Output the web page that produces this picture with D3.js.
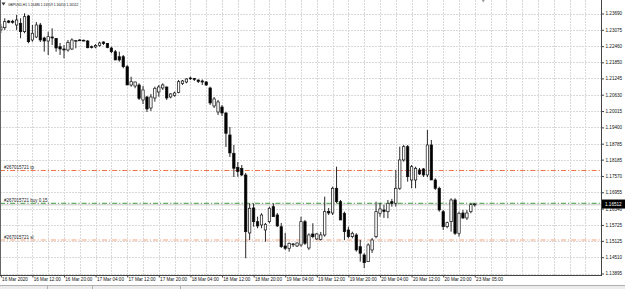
<!DOCTYPE html>
<html>
<head>
<meta charset="utf-8">
<script src="https://cdn.jsdelivr.net/npm/d3@7"></script>
<style>
  html, body { margin: 0; padding: 0; background: #fff; }
  svg { display: block; font-family: "Liberation Sans", Arial, sans-serif; }
</style>
</head>
<body>
<div id="chart"></div>
<script>
// header of the chart window
var symbolTitle = "GBPUSD,H1";
var lastOHLC = ["1.16486", "1.16559", "1.16410", "1.16512"];
var bidPrice = 1.16512;

// hourly candles, 16 Mar 2020 04:00 .. 23 Mar 05:00
var opens = [1.23069,1.23155,1.23408,1.23397,1.23257,1.23321,1.23005,1.23596,1.22692,1.22805,
  1.23257,1.22768,1.22654,1.22805,1.22749,1.22440,1.22353,1.22315,1.22353,1.22654,
  1.22692,1.22681,1.22654,1.22440,1.22429,1.22485,1.22617,1.22560,1.22391,1.22251,
  1.22063,1.22063,1.21686,1.20997,1.20959,1.20997,1.20432,1.20545,1.20131,1.20507,
  1.20733,1.20884,1.20922,1.20545,1.20601,1.20714,1.21053,1.21110,1.21261,1.21242,
  1.21185,1.21148,1.21110,1.20884,1.20206,1.19980,1.20168,1.19942,1.19114,1.18424,
  1.17889,1.17852,1.17607,1.15422,1.16364,1.15848,1.15723,1.15535,1.15848,1.16413,
  1.16100,1.15659,1.14932,1.14845,1.14989,1.14932,1.14970,1.15848,1.14857,1.15384,
  1.15196,1.15177,1.15347,1.16232,1.16175,1.17106,1.16601,1.16164,1.15535,1.15283,
  1.15347,1.14906,1.14593,1.14341,1.14782,1.15283,1.16164,1.16288,1.16224,1.16601,
  1.16541,1.17106,1.18172,1.18673,1.17418,1.17418,1.17795,1.17833,1.17607,1.18737,
  1.17418,1.17106,1.16224,1.15659,1.15848,1.16665,1.15410,1.16175,1.15987,1.16224,
  1.16486];
var highs = [1.23295,1.23510,1.23446,1.23457,1.23634,1.23510,1.23698,1.23634,1.23257,1.23370,
  1.23335,1.22817,1.23005,1.23133,1.22768,1.22579,1.22504,1.22692,1.22756,1.22692,
  1.22730,1.22711,1.22692,1.22485,1.22541,1.22628,1.22636,1.22579,1.22440,1.22315,
  1.22251,1.22127,1.21751,1.21310,1.21121,1.21061,1.20959,1.20583,1.20658,1.20933,
  1.20997,1.21061,1.20933,1.20684,1.20745,1.21185,1.21185,1.21249,1.21310,1.21261,
  1.21204,1.21204,1.21148,1.20933,1.20545,1.20432,1.20244,1.19980,1.19415,1.18737,
  1.18097,1.17983,1.17682,1.16541,1.16541,1.16036,1.16164,1.15799,1.16413,1.16541,
  1.16175,1.15799,1.15422,1.15057,1.15045,1.15064,1.16036,1.15912,1.15410,1.15788,
  1.15422,1.15460,1.16790,1.16364,1.17166,1.17919,1.16665,1.16224,1.15659,1.15471,
  1.15410,1.15158,1.14658,1.15034,1.15234,1.16601,1.16552,1.16477,1.16665,1.16703,
  1.17795,1.18673,1.18737,1.18737,1.17983,1.17919,1.17870,1.17870,1.19302,1.18925,
  1.17482,1.17166,1.16288,1.15848,1.16729,1.16729,1.16224,1.16288,1.16288,1.16541,
  1.16559];
var lows = [1.22956,1.23069,1.23321,1.23306,1.23069,1.22756,1.22945,1.22568,1.22628,1.22768,
  1.22617,1.22251,1.22127,1.22504,1.22251,1.22127,1.22003,1.22251,1.22315,1.22380,
  1.22654,1.22654,1.22380,1.22372,1.22380,1.22440,1.22504,1.22380,1.22191,1.21939,
  1.21875,1.21626,1.20997,1.20933,1.20873,1.20432,1.20281,1.19980,1.20018,1.20368,
  1.20556,1.20809,1.20432,1.20496,1.20556,1.20684,1.20997,1.21061,1.21185,1.21148,
  1.21072,1.20997,1.20959,1.20244,1.20131,1.19867,1.19829,1.18662,1.18285,1.17531,
  1.17543,1.17569,1.14469,1.15158,1.15659,1.15599,1.15599,1.15094,1.15788,1.16036,
  1.15648,1.14857,1.14782,1.14718,1.14894,1.14894,1.14906,1.14970,1.14782,1.15222,
  1.15158,1.15139,1.15283,1.16100,1.16100,1.16541,1.15912,1.15158,1.15222,1.15222,
  1.14718,1.14341,1.14103,1.14330,1.14669,1.15222,1.16036,1.15987,1.15976,1.16413,
  1.16413,1.17042,1.18108,1.17354,1.17106,1.17106,1.17607,1.17531,1.17531,1.17418,
  1.17042,1.16224,1.15535,1.15599,1.15471,1.15347,1.15283,1.15949,1.15912,1.16164,
  1.16410];
var closes = [1.23182,1.23382,1.23359,1.23359,1.23446,1.23005,1.23570,1.22628,1.22945,1.23257,
  1.22692,1.22654,1.22817,1.22768,1.22391,1.22353,1.22315,1.22605,1.22692,1.22673,
  1.22673,1.22662,1.22402,1.22410,1.22485,1.22579,1.22560,1.22410,1.22251,1.21939,
  1.21939,1.21686,1.20997,1.21121,1.21110,1.20496,1.20809,1.20093,1.20545,1.20873,
  1.20922,1.20997,1.20507,1.20658,1.20696,1.21121,1.21148,1.21223,1.21242,1.21204,
  1.21129,1.21110,1.20997,1.20319,1.20470,1.20357,1.19942,1.19178,1.18436,1.17859,
  1.17739,1.17607,1.15471,1.16353,1.15848,1.15686,1.16100,1.15750,1.16353,1.16036,
  1.15686,1.14906,1.14845,1.15034,1.15008,1.15045,1.15848,1.15034,1.15347,1.15283,
  1.15384,1.15347,1.16224,1.16175,1.17106,1.16601,1.15912,1.15471,1.15283,1.15410,
  1.14782,1.14658,1.14303,1.14970,1.15158,1.16224,1.16326,1.16232,1.16541,1.16541,
  1.17106,1.18172,1.18673,1.17543,1.17919,1.17859,1.17645,1.17607,1.18737,1.17418,
  1.17106,1.16288,1.15659,1.15810,1.16665,1.15410,1.16164,1.15987,1.16175,1.16488,
  1.16512];

// time axis labels, one every 8 bars
var timeLabels = ["16 Mar 2020", "16 Mar 12:00", "16 Mar 20:00", "17 Mar 04:00", "17 Mar 12:00",
  "17 Mar 20:00", "18 Mar 04:00", "18 Mar 12:00", "18 Mar 20:00", "19 Mar 04:00", "19 Mar 12:00",
  "19 Mar 20:00", "20 Mar 04:00", "20 Mar 12:00", "20 Mar 20:00", "23 Mar 05:00"];

// price axis labels
var priceTicks = [1.23690, 1.23075, 1.22460, 1.21850, 1.21245, 1.20630, 1.20015, 1.19400, 1.18785,
  1.18185, 1.17570, 1.16955, 1.16340, 1.15725, 1.15125, 1.14510, 1.13895];

// trade lines
var orderNames = ["#267015721 tp", "#267015721 buy 0.15", "#267015721 sl"];
var orderPrices = [1.17775, 1.16540, 1.15158];

var width = 625, height = 289,
    plotRight = 601, plotBottom = 275;

var svg = d3.select("#chart")
  .append("svg")
    .attr("width", width)
    .attr("height", height);

svg.append("rect")
  .attr("width", width).attr("height", height)
  .attr("fill", "#fff");

var x = d3.scaleLinear()
  .domain([0, 120])
  .range([0.8, 0.8 + 3.95 * 120]);

var y = d3.scaleLinear()
  .domain([1.13895, 1.23690])
  .range([273.5, 13.5]);

function crisp(v) { return Math.round(v) + 0.5; }

// grid
var grid = svg.append("g")
  .attr("stroke", "#d9d9d9")
  .attr("stroke-width", 1)
  .attr("stroke-dasharray", "2,1");

grid.selectAll("line.h")
  .data(priceTicks)
  .enter().append("line")
    .attr("x1", 0).attr("x2", plotRight)
    .attr("y1", function(d) { return crisp(y(d)); })
    .attr("y2", function(d) { return crisp(y(d)); });

grid.selectAll("line.v")
  .data(d3.range(4, 152, 4))
  .enter().append("line")
    .attr("y1", 0).attr("y2", plotBottom)
    .attr("x1", function(d) { return crisp(x(d)); })
    .attr("x2", function(d) { return crisp(x(d)); });

// order lines
var orderColors = ["#f2744a", "#3f9a3f", "#f9c1ab"];
var orderWidths = [1, 1, 1.6];

// bid line
svg.append("line")
  .attr("x1", 0).attr("x2", plotRight)
  .attr("y1", y(bidPrice) + 0.8).attr("y2", y(bidPrice) + 0.8)
  .attr("stroke", "#c8c8c8")
  .attr("stroke-width", 1);

svg.selectAll("line.order")
  .data(orderPrices)
  .enter().append("line")
    .attr("x1", 0).attr("x2", plotRight)
    .attr("y1", function(d) { return y(d); })
    .attr("y2", function(d) { return y(d); })
    .attr("stroke", function(d, i) { return orderColors[i]; })
    .attr("stroke-width", function(d, i) { return orderWidths[i]; })
    .attr("stroke-dasharray", "5,2,1.2,2");

svg.selectAll("text.order")
  .data(orderPrices)
  .enter().append("text")
    .attr("x", 4)
    .attr("y", function(d) { return y(d) - 1.3; })
    .attr("font-size", "4.5px")
    .attr("fill", "#222")
    .text(function(d, i) { return orderNames[i]; });

// candles
var bars = d3.range(opens.length);
var candles = svg.append("g");

candles.selectAll("line.wick")
  .data(bars)
  .enter().append("line")
    .attr("x1", function(i) { return x(i); })
    .attr("x2", function(i) { return x(i); })
    .attr("y1", function(i) { return y(highs[i]); })
    .attr("y2", function(i) { return y(lows[i]); })
    .attr("stroke", "#111")
    .attr("stroke-width", 0.9);

candles.selectAll("rect.body")
  .data(bars)
  .enter().append("rect")
    .attr("x", function(i) { return x(i) - 1.2; })
    .attr("width", 2.4)
    .attr("y", function(i) { return y(Math.max(opens[i], closes[i])); })
    .attr("height", function(i) {
      return Math.max(0.8, Math.abs(y(opens[i]) - y(closes[i])));
    })
    .attr("fill", function(i) { return closes[i] >= opens[i] ? "#fff" : "#000"; })
    .attr("stroke", "#111")
    .attr("stroke-width", 0.7);

// frame
svg.append("line")
  .attr("x1", 0.5).attr("x2", 0.5).attr("y1", 0).attr("y2", plotBottom)
  .attr("stroke", "#666");
svg.append("line")
  .attr("x1", 0).attr("x2", plotRight + 0.5).attr("y1", plotBottom + 0.5).attr("y2", plotBottom + 0.5)
  .attr("stroke", "#444");

// price axis
var yAxis = svg.append("g")
  .attr("transform", "translate(" + (plotRight + 0.5) + ",0)")
  .call(d3.axisRight(y).tickValues(priceTicks).tickFormat(d3.format(".5f")).tickSize(2.5).tickPadding(1.5));
yAxis.select(".domain").attr("d", "M0,0V" + (plotBottom + 1)).attr("stroke", "#444");
yAxis.selectAll("line").attr("stroke", "#444");
yAxis.selectAll("text")
  .attr("font-size", "4.6px")
  .attr("font-family", "Liberation Sans, Arial, sans-serif")
  .attr("fill", "#111");

// time axis
var xAxis = svg.append("g")
  .attr("transform", "translate(0," + (plotBottom + 0.5) + ")")
  .call(d3.axisBottom(x).tickValues(d3.range(0, 121, 8))
    .tickFormat(function(d, i) { return timeLabels[i]; }).tickSize(2));
xAxis.select(".domain").remove();
xAxis.selectAll("line").attr("stroke", "#444");
xAxis.selectAll("text")
  .attr("text-anchor", "start")
  .attr("x", 0.8)
  .attr("y", 1.8)
  .attr("font-size", "4.6px")
  .attr("font-family", "Liberation Sans, Arial, sans-serif")
  .attr("fill", "#111");

// current price box
var by = y(bidPrice);
svg.append("rect")
  .attr("x", plotRight + 1).attr("y", by - 4.5)
  .attr("width", width - plotRight - 1).attr("height", 9)
  .attr("fill", "#000");
svg.append("text")
  .attr("x", plotRight + 4).attr("y", by + 1.6)
  .attr("font-size", "4.6px")
  .attr("fill", "#fff")
  .text(d3.format(".5f")(bidPrice));

// chart shift marker
svg.append("path")
  .attr("d", "M" + (x(121) + 3) + ",0h3l-1.5,2.5z")
  .attr("fill", "#999");

// header
svg.append("path")
  .attr("d", "M1.5,2.5h4l-2,3z")
  .attr("fill", "#333");
svg.append("text")
  .attr("x", 8).attr("y", 6.2)
  .attr("font-size", "3.3px")
  .attr("fill", "#111")
  .text(symbolTitle + "  " + lastOHLC.join(" "));

// bottom tab strip
svg.append("rect")
  .attr("x", 0).attr("y", 285).attr("width", width).attr("height", 4)
  .attr("fill", "#ececec");
svg.append("line")
  .attr("x1", 0).attr("x2", width).attr("y1", 285.5).attr("y2", 285.5)
  .attr("stroke", "#b0b0b0");
svg.selectAll("line.tab")
  .data([47, 92, 180])
  .enter().append("line")
    .attr("x1", function(d) { return d + 0.5; }).attr("x2", function(d) { return d + 0.5; })
    .attr("y1", 286).attr("y2", 289)
    .attr("stroke", "#b0b0b0");
</script>
</body>
</html>
